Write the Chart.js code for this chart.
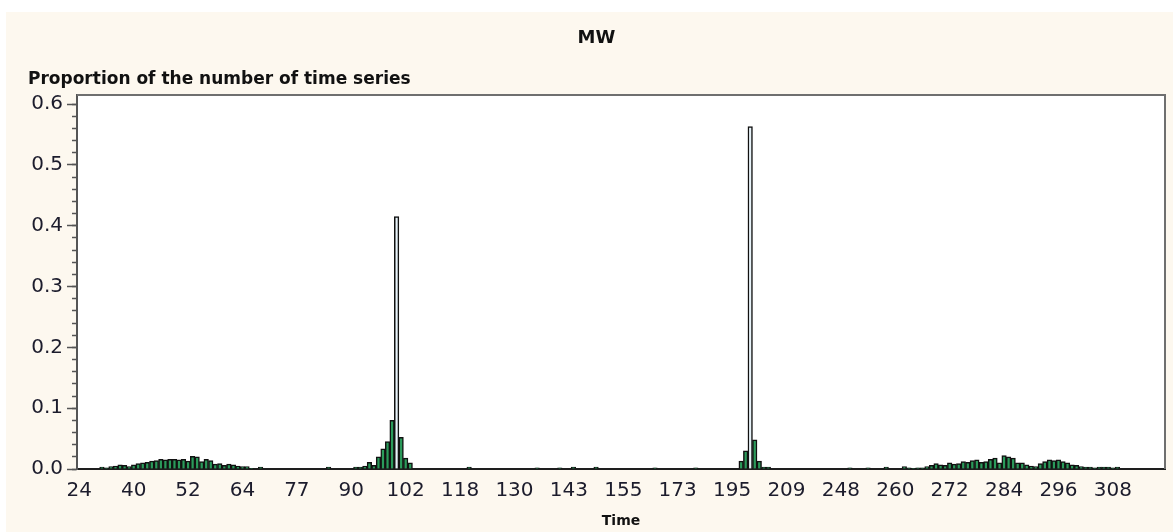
<!DOCTYPE html>
<html>
<head>
    <title>MW</title>
    <script src="https://cdn.jsdelivr.net/npm/chart.js@4/dist/chart.umd.min.js"></script>
    <style>
        body { margin: 0; background: #ffffff; }
        canvas { display: block; }
    </style>
</head>
<body>
    <canvas id="myChart" width="1173" height="532"></canvas>

    <script>
      // time values on the category axis (not evenly spaced)
      const timeLabels = [
        24, 26, 27, 29, 30, 32, 33, 34, 35, 36, 38, 39,
        40, 41, 42, 43, 44, 45, 46, 47, 48, 49, 50, 51,
        52, 53, 54, 55, 56, 57, 58, 59, 60, 61, 62, 63,
        64, 65, 66, 67, 68, 69, 70, 71, 72, 73, 74, 76,
        77, 78, 79, 80, 81, 82, 83, 84, 85, 86, 87, 89,
        90, 91, 92, 93, 94, 95, 96, 97, 98, 99, 100, 101,
        102, 103, 104, 105, 106, 108, 109, 110, 112, 113, 115, 116,
        118, 119, 120, 121, 122, 123, 124, 125, 126, 127, 128, 129,
        130, 131, 132, 133, 134, 135, 136, 137, 138, 139, 140, 142,
        143, 144, 145, 146, 147, 148, 149, 150, 151, 152, 153, 154,
        155, 156, 157, 158, 160, 161, 163, 164, 166, 167, 169, 171,
        173, 174, 176, 178, 180, 182, 184, 186, 188, 190, 192, 193,
        195, 196, 197, 198, 199, 200, 201, 202, 203, 205, 206, 207,
        209, 210, 212, 215, 218, 222, 226, 230, 234, 238, 242, 245,
        248, 249, 250, 251, 252, 253, 254, 255, 256, 257, 258, 259,
        260, 261, 262, 263, 264, 265, 266, 267, 268, 269, 270, 271,
        272, 273, 274, 275, 276, 277, 278, 279, 280, 281, 282, 283,
        284, 285, 286, 287, 288, 289, 290, 291, 292, 293, 294, 295,
        296, 297, 298, 299, 300, 301, 302, 303, 304, 305, 306, 307,
        308, 309, 310, 311, 312, 313, 314, 315, 316, 317, 318, 319
      ];

      // proportion of the number of time series
      const proportions = [
        0, 0, 0, 0, 0, 0.003, 0.002, 0.004, 0.005, 0.007, 0.006, 0.004,
        0.007, 0.009, 0.010, 0.011, 0.013, 0.014, 0.016, 0.015, 0.016, 0.016, 0.015, 0.016,
        0.013, 0.021, 0.020, 0.012, 0.016, 0.014, 0.008, 0.009, 0.006, 0.008, 0.007, 0.005,
        0.004, 0.004, 0.001, 0, 0.003, 0, 0, 0, 0, 0, 0, 0,
        0, 0, 0, 0, 0, 0, 0, 0.003, 0, 0, 0, 0,
        0, 0.003, 0.003, 0.005, 0.011, 0.006, 0.020, 0.033, 0.045, 0.080, 0.415, 0.052,
        0.018, 0.010, 0, 0, 0, 0, 0, 0, 0, 0, 0, 0,
        0, 0, 0.003, 0, 0, 0, 0, 0, 0, 0, 0, 0,
        0, 0, 0, 0, 0, 0.002, 0, 0, 0, 0, 0.002, 0,
        0, 0.003, 0, 0, 0, 0, 0.003, 0, 0, 0, 0, 0,
        0, 0, 0, 0, 0, 0, 0, 0.002, 0, 0, 0, 0,
        0, 0, 0, 0, 0.002, 0, 0, 0, 0, 0, 0, 0,
        0, 0, 0.013, 0.030, 0.563, 0.048, 0.013, 0.003, 0.003, 0, 0, 0,
        0, 0, 0, 0, 0, 0, 0, 0, 0, 0, 0, 0,
        0, 0, 0.002, 0, 0, 0, 0.002, 0, 0, 0, 0.003, 0,
        0, 0, 0.004, 0.002, 0.001, 0.002, 0.002, 0.004, 0.006, 0.009, 0.007, 0.006,
        0.010, 0.008, 0.009, 0.012, 0.011, 0.014, 0.015, 0.011, 0.012, 0.016, 0.018, 0.010,
        0.022, 0.020, 0.018, 0.010, 0.010, 0.007, 0.005, 0.004, 0.009, 0.012, 0.015, 0.014,
        0.015, 0.012, 0.010, 0.007, 0.006, 0.004, 0.003, 0.003, 0.002, 0.003, 0.003, 0.003,
        0.002, 0.003, 0, 0, 0, 0, 0, 0, 0, 0, 0, 0
      ];

      // labels printed under the x axis
      const shownTicks = [24, 40, 52, 64, 77, 90, 102, 118, 130, 143, 155, 173,
                          195, 209, 248, 260, 272, 284, 296, 308];

      // the two bars drawn without the green fill
      const openBars = [100, 199];

      const FONT = "'DejaVu Sans', Verdana, sans-serif";
      const barColors = timeLabels.map(t => openBars.includes(t) ? "#e8f3f9" : "#2a9a5a");

      const frame = {
        id: "frame",
        beforeDraw(chart) {
          const c = chart.ctx;
          const a = chart.chartArea;
          c.save();
          c.fillStyle = "#ffffff";
          c.fillRect(0, 0, chart.width, chart.height);
          c.fillStyle = "#fdf8ef";
          c.fillRect(6, 12, chart.width - 6, chart.height - 12);
          c.fillStyle = "#ffffff";
          c.fillRect(a.left, a.top, a.right - a.left, a.bottom - a.top);
          c.restore();
        },
        afterDraw(chart) {
          const c = chart.ctx;
          const a = chart.chartArea;
          c.save();
          c.strokeStyle = "#6f6f6f";
          c.lineWidth = 2;
          c.beginPath();
          c.moveTo(a.left, a.top);
          c.lineTo(a.right, a.top);
          c.lineTo(a.right, a.bottom);
          c.stroke();
          c.restore();
        }
      };

      const ctx = document.getElementById("myChart");
      const mychart = new Chart(ctx, {
        type: "bar",
        data: {
          labels: timeLabels,
          datasets: [
            {
              label: "MW",
              data: proportions,
              backgroundColor: barColors,
              borderColor: "#111111",
              borderWidth: 1.5,
              barPercentage: 1.0,
              categoryPercentage: 1.0,
              yAxisID: "y",
            },
          ],
        },
        options: {
          responsive: false,
          animation: false,
          layout: { padding: { left: 28, right: 8, top: 0, bottom: 0 } },
          plugins: {
            legend: { display: false },
            tooltip: { enabled: false },
            title: {
              display: true,
              text: "MW",
              color: "#111111",
              font: { family: FONT, size: 18, weight: "bold" },
              padding: { top: 28, bottom: 20 },
            },
            subtitle: {
              display: true,
              text: "Proportion of the number of time series",
              align: "start",
              color: "#111111",
              font: { family: FONT, size: 17, weight: "bold" },
              padding: { top: 0, bottom: 5 },
            },
          },
          scales: {
            x: {
              type: "category",
              grid: { display: false },
              border: { display: true, color: "#1e1e1e", width: 2 },
              ticks: {
                autoSkip: false,
                maxRotation: 0,
                padding: 2,
                color: "#1c1c2c",
                font: { family: FONT, size: 20 },
                callback: function (value, index) {
                  const t = timeLabels[index];
                  return shownTicks.includes(t) ? String(t) : "";
                },
              },
              title: {
                display: true,
                text: "Time",
                color: "#111111",
                font: { family: FONT, size: 14, weight: "bold" },
                padding: { top: 0, bottom: 2 },
              },
              afterFit: (scale) => { scale.height = 63; },
            },
            y: {
              position: "left",
              weight: 1,
              min: 0,
              max: 0.615,
              grid: { drawOnChartArea: false, tickLength: 10, tickColor: "#555555", tickWidth: 1.5 },
              border: { display: true, color: "#555555", width: 2 },
              ticks: {
                stepSize: 0.1,
                includeBounds: false,
                padding: 4,
                color: "#1c1c2c",
                font: { family: FONT, size: 20 },
                callback: (v) => v.toFixed(1),
              },
              afterFit: (scale) => { scale.width = 49; },
            },
            yMinor: {
              position: "left",
              weight: 0,
              min: 0,
              max: 0.615,
              grid: { drawOnChartArea: false, tickLength: 5, tickColor: "#555555", tickWidth: 1.5 },
              border: { display: false },
              ticks: { stepSize: 0.02, includeBounds: false, display: false },
              afterFit: (scale) => { scale.width = 0; },
            },
          },
        },
        plugins: [frame],
      });
    </script>
</body>
</html>
